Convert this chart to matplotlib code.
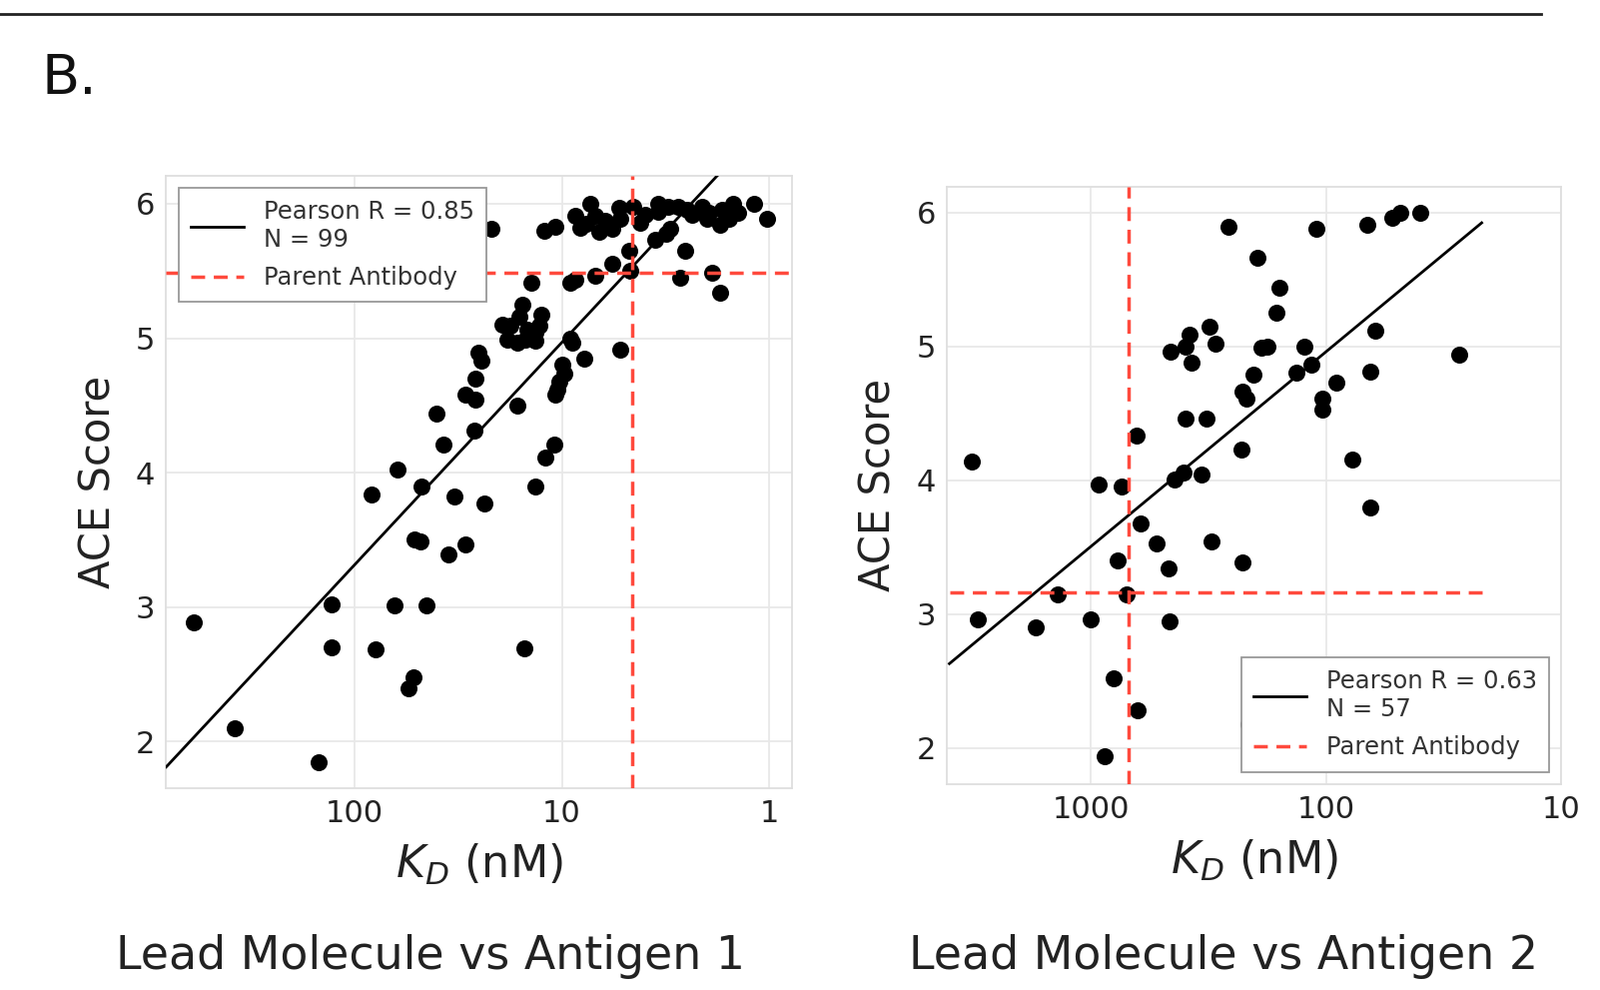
import matplotlib.pyplot as plt
from matplotlib.lines import Line2D
import numpy as np

# Lead Molecule vs Antigen 1 : KD (nM) and ACE score
kd_ag1 = [594, 378, 148, 128, 129, 83, 79, 64, 62, 55, 52, 51, 48, 47.6, 45, 40, 37, 35, 33, 29,
          26.3, 23.6, 21.8, 16.4, 15.1, 13.4, 29.0, 26.0, 26.0, 25.1, 24.5, 10.9, 12.0, 10.0, 9.77,
          10.3, 10.5, 10.7, 7.83, 9.08, 8.91, 5.21, 19.4, 17.7, 16.1, 14.7, 13.4, 12.9, 18.3, 16.4,
          15.0, 13.4, 15.5, 12.6, 14.1, 9.08, 8.59, 6.89, 5.73, 4.76, 4.68, 3.55, 3.16, 3.00, 2.54,
          2.69, 1.89, 1.73, 12.2, 10.7, 8.59, 8.13, 7.28, 6.89, 6.64, 6.17, 5.73, 5.32, 5.22, 4.51,
          3.42, 3.42, 3.06, 2.74, 2.50, 2.37, 2.11, 1.96, 1.69, 1.57, 1.49, 1.41, 1.19, 1.03, 1.73,
          3.98, 7.6, 4.2, 2.0]
ace_ag1 = [2.89, 2.10, 1.85, 3.02, 2.70, 3.84, 2.69, 3.01, 4.02, 2.40, 2.475, 3.50, 3.49, 3.90, 3.01,
           4.44, 4.21, 3.39, 3.82, 3.47, 4.31, 3.77, 5.815, 4.50, 2.695, 3.895, 4.58, 4.54, 4.70, 4.89,
           4.83, 4.21, 4.11, 4.80, 4.74, 4.68, 4.62, 4.58, 4.85, 5.0, 4.965, 4.915, 5.10, 5.09, 5.16,
           5.06, 5.04, 5.09, 4.99, 4.965, 4.99, 4.98, 5.25, 5.175, 5.41, 5.41, 5.435, 5.465, 5.55,
           5.65, 5.50, 5.73, 5.78, 5.81, 5.65, 5.45, 5.485, 5.34, 5.80, 5.83, 5.91, 5.82, 6.0, 5.91,
           5.79, 5.87, 5.81, 5.97, 5.89, 5.98, 6.0, 5.94, 5.98, 5.98, 5.955, 5.92, 5.98, 5.93, 5.955,
           5.89, 6.0, 5.93, 6.0, 5.885, 5.84, 5.92, 5.85, 5.86, 5.89]

# Lead Molecule vs Antigen 2
kd_ag2 = [3199, 929, 741, 640, 261, 195, 461, 398, 380, 374, 313, 295, 398, 324, 229, 440, 406, 339,
          226, 219, 204, 158, 163, 189, 177, 110, 66.7, 52.2, 48.2, 39.8, 61.7, 27.3, 124, 116, 134,
          90.8, 104, 104, 64.6, 77.3, 64.6, 308, 226, 3034, 1726, 1380, 1000, 769, 708, 617, 525,
          468, 464, 802, 631, 871, 215]
ace_ag2 = [4.14, 3.97, 3.955, 4.33, 5.89, 5.66, 4.96, 5.0, 5.085, 4.88, 5.15, 5.02, 4.46, 4.46, 4.23,
           4.005, 4.055, 4.04, 4.66, 4.61, 4.79, 5.435, 5.25, 4.99, 5.0, 5.88, 5.91, 5.96, 6.0, 6.0,
           5.12, 4.94, 5.0, 4.86, 4.80, 4.73, 4.61, 4.53, 4.81, 4.155, 3.80, 3.545, 3.385, 2.96, 2.90,
           3.146, 2.96, 3.405, 3.146, 3.68, 3.53, 3.34, 2.95, 2.52, 2.28, 1.94, 2.18]

# parent antibody (KD nM, ACE)
parent_ag1 = (4.6, 5.49)
parent_ag2 = (692, 3.16)

pearson_r = [0.85, 0.63]
n_points = [99, 57]
titles = ['Lead Molecule vs Antigen 1', 'Lead Molecule vs Antigen 2']

RED = '#ff4a3d'
GRID = '#e8e8e8'
FONT = 'DejaVu Sans'

plt.rcParams['font.family'] = [FONT]
plt.rcParams['mathtext.fontset'] = 'dejavusans'

fig = plt.figure(figsize=(16.02, 9.91), dpi=100)

ax1 = fig.add_axes([0.1039, 0.2038, 0.391, 0.619])
ax2 = fig.add_axes([0.5918, 0.2082, 0.384, 0.603])

panels = [
    (ax1, kd_ag1, ace_ag1, parent_ag1, (805, 0.78), (1.654, 6.21), [100, 10, 1], (805, 0.78), 'upper left'),
    (ax2, kd_ag2, ace_ag2, parent_ag2, (4100, 10), (1.733, 6.19), [1000, 100, 10], (4000, 21.8), 'lower right'),
]

for i, (ax, kd, ace, parent, xlim, ylim, ticks, span, loc) in enumerate(panels):
    kd = np.array(kd)
    ace = np.array(ace)
    ax.set_xscale('log')
    ax.set_xlim(*xlim)
    ax.set_ylim(*ylim)

    ax.scatter(kd, ace, s=150, color='black', zorder=3, linewidths=0)

    # linear fit in log space
    slope, icpt = np.polyfit(np.log10(kd), ace, 1)
    xs = np.logspace(np.log10(span[0]), np.log10(span[1]), 50)
    ax.plot(xs, slope * np.log10(xs) + icpt, color='black', lw=2, zorder=4)

    ax.plot([span[0], span[1]], [parent[1], parent[1]], color=RED, lw=2.5, ls=(0, (4, 2.5)), zorder=5)
    ax.axvline(parent[0], color=RED, lw=2.5, ls=(0, (4, 2.5)), zorder=5)

    ax.set_xticks(ticks)
    ax.set_xticklabels([str(t) for t in ticks])
    ax.xaxis.set_minor_locator(plt.NullLocator())
    ax.set_yticks([2, 3, 4, 5, 6])
    ax.tick_params(length=0, labelsize=22, pad=8, labelcolor='#222222')
    ax.grid(True, color=GRID, lw=1.3)
    ax.set_axisbelow(True)
    for sp in ax.spines.values():
        sp.set_color('#dedede')
        sp.set_linewidth(1.3)

    ax.set_xlabel(r'$K_D$ (nM)', fontsize=32, labelpad=10, color='#222222')
    ax.set_ylabel('ACE Score', fontsize=30, labelpad=12, color='#222222')

    handles = [Line2D([], [], color='black', lw=2),
               Line2D([], [], color=RED, lw=2.5, ls=(0, (4, 2.5)))]
    labels = [f'Pearson R = {pearson_r[i]:.2f}\nN = {n_points[i]}', 'Parent Antibody']
    leg = ax.legend(handles, labels, loc=loc, fontsize=17.5, frameon=True, fancybox=False,
                    edgecolor='#999999', framealpha=1, handlelength=2.2, borderpad=0.5,
                    labelspacing=0.6)
    leg.get_frame().set_linewidth(1.3)
    for t in leg.get_texts():
        t.set_color('#333333')

fig.text(0.269, 0.034, titles[0], ha='center', va='center', fontsize=33, color='#222222')
fig.text(0.765, 0.034, titles[1], ha='center', va='center', fontsize=33, color='#222222')
fig.text(0.026, 0.92, 'B.', ha='left', va='center', fontsize=40, color='#111111')
fig.add_artist(Line2D([0, 0.963], [0.986, 0.986], color='#222222', lw=2, transform=fig.transFigure))

fig.savefig('out.png', dpi=100)
